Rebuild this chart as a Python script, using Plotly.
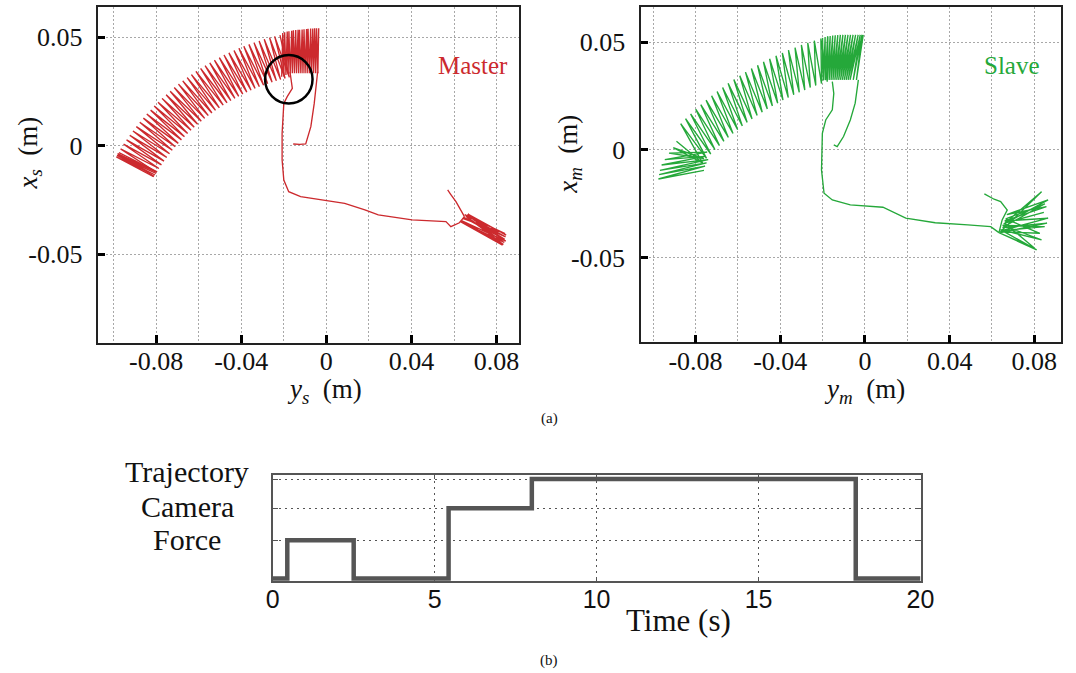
import plotly.graph_objects as go

# ---------------- data ----------------
# Master (left, red): zig-zag arc, inner / outer points (y_s, x_s)
master_arc_inner_ys = [-0.0810, -0.0799, -0.0787, -0.0775, -0.0763, -0.0750, -0.0737, -0.0724, -0.0710, -0.0696,
                       -0.0681, -0.0667, -0.0652, -0.0636, -0.0621, -0.0605, -0.0588, -0.0572, -0.0555, -0.0538,
                       -0.0521, -0.0503, -0.0485, -0.0467, -0.0449, -0.0430, -0.0412, -0.0393, -0.0374, -0.0354,
                       -0.0335, -0.0315, -0.0295, -0.0276, -0.0255, -0.0235, -0.0215, -0.0194, -0.0174]
master_arc_inner_xs = [-0.0141, -0.0123, -0.0105, -0.0088, -0.0071, -0.0054, -0.0037, -0.0021, -0.0005, 0.0011,
                       0.0027, 0.0042, 0.0056, 0.0071, 0.0085, 0.0099, 0.0113, 0.0126, 0.0139, 0.0151,
                       0.0163, 0.0175, 0.0187, 0.0198, 0.0208, 0.0218, 0.0228, 0.0238, 0.0247, 0.0256,
                       0.0264, 0.0272, 0.0279, 0.0286, 0.0293, 0.0299, 0.0305, 0.0310, 0.0315]
master_arc_outer_ys = [-0.0981, -0.0967, -0.0953, -0.0939, -0.0924, -0.0909, -0.0893, -0.0877, -0.0860, -0.0844,
                       -0.0826, -0.0809, -0.0791, -0.0772, -0.0753, -0.0734, -0.0715, -0.0695, -0.0675, -0.0654,
                       -0.0634, -0.0613, -0.0591, -0.0570, -0.0548, -0.0526, -0.0503, -0.0481, -0.0458, -0.0434,
                       -0.0411, -0.0388, -0.0364, -0.0340, -0.0316, -0.0292, -0.0267, -0.0243, -0.0218]
master_arc_outer_xs = [-0.0036, -0.0015, 0.0007, 0.0027, 0.0048, 0.0068, 0.0088, 0.0108, 0.0127, 0.0146,
                       0.0164, 0.0183, 0.0200, 0.0218, 0.0235, 0.0251, 0.0268, 0.0284, 0.0299, 0.0314,
                       0.0328, 0.0343, 0.0356, 0.0369, 0.0382, 0.0394, 0.0406, 0.0418, 0.0428, 0.0439,
                       0.0449, 0.0458, 0.0467, 0.0475, 0.0483, 0.0491, 0.0498, 0.0504, 0.0510]
master_left_tip_ys = [-0.0987, -0.0984, -0.0980, -0.0975]
master_left_tip_xs = [-0.0051, -0.0045, -0.0040, -0.0032]
master_left_end_ys = [-0.0812, -0.0805, -0.0800, -0.0795]
master_left_end_xs = [-0.0142, -0.0135, -0.0128, -0.0120]
master_block_bottom_ys = [-0.0210, -0.0200, -0.0190, -0.0180, -0.0170, -0.0160, -0.0150, -0.0140, -0.0130,
                          -0.0120, -0.0110, -0.0100, -0.0090, -0.0080, -0.0070, -0.0060, -0.0050, -0.0040]
master_block_bottom_xs = [0.0318, 0.0322, 0.0326, 0.0330, 0.0332, 0.0334, 0.0334, 0.0334, 0.0334,
                          0.0334, 0.0334, 0.0334, 0.0334, 0.0334, 0.0334, 0.0334, 0.0334, 0.0334]
master_block_top_ys = [-0.0205, -0.0196, -0.0184, -0.0176, -0.0163, -0.0155, -0.0144, -0.0133, -0.0126,
                       -0.0114, -0.0105, -0.0093, -0.0086, -0.0074, -0.0064, -0.0055, -0.0046, -0.0036]
master_block_top_xs = [0.0520, 0.0523, 0.0526, 0.0528, 0.0530, 0.0532, 0.0533, 0.0534, 0.0535,
                       0.0536, 0.0537, 0.0538, 0.0539, 0.0540, 0.0540, 0.0541, 0.0541, 0.0541]
master_start_ys = [-0.0156, -0.0125, -0.0097, -0.0073, -0.0057, -0.0045, -0.0041]
master_start_xs = [0.0008, 0.0006, 0.0008, 0.0088, 0.0195, 0.0288, 0.0341]
master_path_ys = [-0.0171, -0.0160, -0.0184, -0.0200, -0.0208, -0.0208, -0.0200, -0.0177, -0.0121,
                  -0.0010, 0.0086, 0.0181, 0.0244, 0.0403, 0.0562, 0.0585, 0.0625, 0.0649]
master_path_xs = [0.0341, 0.0264, 0.0226, 0.0195, 0.0057, -0.0066, -0.0158, -0.0212, -0.0235,
                  -0.0250, -0.0266, -0.0296, -0.0319, -0.0342, -0.0350, -0.0373, -0.0355, -0.0327]
master_hook_ys = [0.0649, 0.0641, 0.0609, 0.0585, 0.0570]
master_hook_xs = [-0.0327, -0.0312, -0.0258, -0.0225, -0.0204]
master_fan_hub_ys = [0.0640, 0.0650, 0.0645, 0.0660, 0.0635, 0.0655, 0.0630, 0.0665]
master_fan_hub_xs = [-0.0335, -0.0318, -0.0330, -0.0320, -0.0345, -0.0325, -0.0350, -0.0315]
master_fan_tip_ys = [0.0840, 0.0842, 0.0838, 0.0843, 0.0832, 0.0836, 0.0828, 0.0845]
master_fan_tip_xs = [-0.0405, -0.0420, -0.0432, -0.0440, -0.0455, -0.0446, -0.0458, -0.0412]

# Slave (right, green)
slave_arc_inner_ys = [-0.0767, -0.0748, -0.0728, -0.0708, -0.0687, -0.0666, -0.0645, -0.0623, -0.0601, -0.0579,
                      -0.0556, -0.0533, -0.0509, -0.0485, -0.0461, -0.0437, -0.0412, -0.0387, -0.0362, -0.0336,
                      -0.0310, -0.0284, -0.0258, -0.0232, -0.0205, -0.0178]
slave_arc_inner_xs = [-0.0060, -0.0039, -0.0019, 0.0001, 0.0020, 0.0040, 0.0058, 0.0076, 0.0094, 0.0111,
                      0.0128, 0.0144, 0.0160, 0.0175, 0.0190, 0.0204, 0.0217, 0.0231, 0.0243, 0.0256,
                      0.0267, 0.0278, 0.0289, 0.0299, 0.0308, 0.0317]
slave_arc_outer_ys = [-0.0870, -0.0847, -0.0823, -0.0799, -0.0775, -0.0750, -0.0724, -0.0698, -0.0672, -0.0646,
                      -0.0619, -0.0591, -0.0564, -0.0536, -0.0507, -0.0479, -0.0450, -0.0420, -0.0390, -0.0361,
                      -0.0330, -0.0300, -0.0270, -0.0239, -0.0208, -0.0176]
slave_arc_outer_xs = [0.0122, 0.0145, 0.0167, 0.0189, 0.0210, 0.0231, 0.0251, 0.0271, 0.0290, 0.0309,
                      0.0327, 0.0344, 0.0361, 0.0378, 0.0393, 0.0409, 0.0423, 0.0437, 0.0450, 0.0463,
                      0.0475, 0.0487, 0.0497, 0.0507, 0.0517, 0.0526]
slave_left_tip_ys = [-0.0975, -0.0972, -0.0968, -0.0960, -0.0945, -0.0925, -0.0905, -0.0890]
slave_left_tip_xs = [-0.0135, -0.0115, -0.0095, -0.0070, -0.0045, -0.0015, 0.0010, 0.0040]
slave_left_end_ys = [-0.0760, -0.0755, -0.0748, -0.0740, -0.0755, -0.0745, -0.0760, -0.0767]
slave_left_end_xs = [-0.0095, -0.0075, -0.0060, -0.0045, -0.0030, -0.0010, -0.0040, -0.0060]
slave_block_bottom_ys = [-0.0205, -0.0196, -0.0187, -0.0178, -0.0169, -0.0160, -0.0151, -0.0142, -0.0133,
                         -0.0124, -0.0115, -0.0106, -0.0097, -0.0088, -0.0079, -0.0070, -0.0055, -0.0040]
slave_block_bottom_xs = [0.0320, 0.0322, 0.0324, 0.0325, 0.0325, 0.0325, 0.0325, 0.0325, 0.0325,
                         0.0325, 0.0325, 0.0325, 0.0325, 0.0325, 0.0325, 0.0325, 0.0325, 0.0325]
slave_block_top_ys = [-0.0200, -0.0188, -0.0176, -0.0164, -0.0152, -0.0140, -0.0128, -0.0116, -0.0104,
                      -0.0092, -0.0080, -0.0068, -0.0056, -0.0044, -0.0032, -0.0022, -0.0014, -0.0008]
slave_block_top_xs = [0.0520, 0.0524, 0.0527, 0.0529, 0.0531, 0.0532, 0.0533, 0.0534, 0.0534,
                      0.0534, 0.0534, 0.0534, 0.0534, 0.0534, 0.0534, 0.0534, 0.0534, 0.0534]
slave_start_ys = [-0.0147, -0.0131, -0.0101, -0.0069, -0.0046, -0.0031]
slave_start_xs = [0.0023, 0.0015, 0.0062, 0.0139, 0.0217, 0.0325]
slave_path_ys = [-0.0154, -0.0147, -0.0154, -0.0185, -0.0201, -0.0205, -0.0193, -0.0154, -0.0069,
                 0.0023, 0.0085, 0.0193, 0.0332, 0.0486, 0.0594, 0.0633]
slave_path_xs = [0.0317, 0.0262, 0.0186, 0.0139, 0.0077, -0.0093, -0.0201, -0.0232, -0.0255,
                 -0.0263, -0.0266, -0.0317, -0.0338, -0.0348, -0.0356, -0.0384]
slave_hook_ys = [0.0564, 0.0610, 0.0641, 0.0672, 0.0648, 0.0633]
slave_hook_xs = [-0.0204, -0.0229, -0.0240, -0.0279, -0.0325, -0.0384]
slave_fan_hub_ys = [0.0633, 0.0640, 0.0650, 0.0645, 0.0660, 0.0670, 0.0655, 0.0640, 0.0665, 0.0650, 0.0635, 0.0660]
slave_fan_hub_xs = [-0.0384, -0.0370, -0.0350, -0.0375, -0.0330, -0.0300, -0.0345, -0.0380, -0.0320, -0.0360, -0.0385, -0.0340]
slave_fan_tip_ys = [0.0811, 0.0834, 0.0849, 0.0865, 0.0857, 0.0865, 0.0834, 0.0826, 0.0850, 0.0860, 0.0800, 0.0845]
slave_fan_tip_xs = [-0.0464, -0.0418, -0.0356, -0.0317, -0.0263, -0.0232, -0.0194, -0.0387, -0.0250, -0.0340, -0.0455, -0.0290]

# Task timeline (b)
mode_names = ["Force", "Camera", "Trajectory"]
mode_levels = [1.0, 1.84, 2.6]
switch_times = [0, 0.45, 2.5, 5.43, 8.0, 18.0, 20]
switch_levels = [0, 1.0, 0, 1.84, 2.6, 0, 0]

tick_pos = [-0.08, -0.04, 0, 0.04, 0.08]
tick_txt = ["-0.08", "-0.04", "0", "0.04", "0.08"]
grid_minor = [-0.10, -0.06, -0.02, 0.02, 0.06]
ytick_pos = [-0.05, 0, 0.05]
ytick_txt = ["-0.05", "0", "0.05"]
time_ticks = [0, 5, 10, 15, 20]


# ---------------- helpers ----------------
def zigzag(ax, ay, bx, by):
    xs, ys = [], []
    for i in range(len(ax)):
        xs += [ax[i], bx[i]]
        ys += [ay[i], by[i]]
    return xs, ys


def join(*segs):
    X, Y = [], []
    for sx, sy in segs:
        X += list(sx) + [None]
        Y += list(sy) + [None]
    return X, Y


mX, mY = join(
    zigzag(master_arc_inner_ys, master_arc_inner_xs, master_arc_outer_ys, master_arc_outer_xs),
    zigzag(master_left_end_ys, master_left_end_xs, master_left_tip_ys, master_left_tip_xs),
    zigzag(master_block_bottom_ys, master_block_bottom_xs, master_block_top_ys, master_block_top_xs),
    (master_start_ys, master_start_xs),
    (master_path_ys, master_path_xs),
    (master_hook_ys, master_hook_xs),
    zigzag(master_fan_hub_ys, master_fan_hub_xs, master_fan_tip_ys, master_fan_tip_xs),
)
sX, sY = join(
    zigzag(slave_arc_inner_ys, slave_arc_inner_xs, slave_arc_outer_ys, slave_arc_outer_xs),
    zigzag(slave_left_end_ys, slave_left_end_xs, slave_left_tip_ys, slave_left_tip_xs),
    zigzag(slave_block_bottom_ys, slave_block_bottom_xs, slave_block_top_ys, slave_block_top_xs),
    (slave_start_ys, slave_start_xs),
    (slave_path_ys, slave_path_xs),
    (slave_hook_ys, slave_hook_xs),
    zigzag(slave_fan_hub_ys, slave_fan_hub_xs, slave_fan_tip_ys, slave_fan_tip_xs),
)

RED = "#cc2a2e"
GREEN = "#25a83a"
SERIF = "Liberation Serif, Times New Roman, serif"
W, H = 1076, 673

fig = go.Figure()
fig.add_trace(go.Scatter(x=mX, y=mY, mode="lines", line=dict(color=RED, width=1.35),
                         xaxis="x", yaxis="y", hoverinfo="skip"))
fig.add_trace(go.Scatter(x=sX, y=sY, mode="lines", line=dict(color=GREEN, width=1.35),
                         xaxis="x2", yaxis="y2", hoverinfo="skip"))
fig.add_trace(go.Scatter(x=switch_times, y=switch_levels, mode="lines", line_shape="hv",
                         line=dict(color="#555555", width=4.5), xaxis="x3", yaxis="y3", hoverinfo="skip"))

top_grid = dict(showgrid=True, gridcolor="#a8a8a8", griddash="2px,2px", gridwidth=1)


def top_xaxis(domain, rng, anchor):
    return dict(domain=domain, range=rng, anchor=anchor, tickmode="array", tickvals=tick_pos, ticktext=tick_txt,
                ticks="inside", ticklen=8, tickwidth=3, tickcolor="black", showline=True, linecolor="#222",
                linewidth=1.5, mirror=True, zeroline=False, tickfont=dict(family=SERIF, size=26, color="#111"),
                ticklabelstandoff=-5,
                minor=dict(tickmode="array", tickvals=grid_minor, ticks="", **top_grid), **top_grid)


def top_yaxis(domain, rng, anchor):
    return dict(domain=domain, range=rng, anchor=anchor, tickmode="array", tickvals=ytick_pos, ticktext=ytick_txt,
                ticks="inside", ticklen=7, tickwidth=3, tickcolor="black", showline=True, linecolor="#222",
                linewidth=1.5, mirror=True, zeroline=False, tickfont=dict(family=SERIF, size=26, color="#111"),
                ticklabelstandoff=9, **top_grid)


fig.update_layout(
    width=W, height=H, margin=dict(l=0, r=0, t=0, b=0), paper_bgcolor="white", plot_bgcolor="white",
    showlegend=False,
    xaxis=top_xaxis([93.3 / W, 521.7 / W], [-0.1071, 0.0903], "y"),
    yaxis=top_yaxis([1 - 342.5 / H, 1 - 7.3 / H], [-0.0907, 0.0638], "x"),
    xaxis2=top_xaxis([646.7 / W, 1075 / W], [-0.1057, 0.0926], "y2"),
    yaxis2=top_yaxis([1 - 342.3 / H, 1 - 7.3 / H], [-0.0893, 0.0662], "x2"),
    xaxis3=dict(domain=[271 / W, 931.7 / W], range=[0, 20], anchor="y3", tickmode="array", tickvals=time_ticks,
                ticks="inside", ticklen=4, tickcolor="#555", showline=True, linecolor="#555", linewidth=2,
                mirror="ticks", zeroline=False, showgrid=True, gridcolor="#555", griddash="2px,4px", gridwidth=1,
                tickfont=dict(family="Liberation Sans, Arial, sans-serif", size=25, color="#111"),
                ticklabelstandoff=-5),
    yaxis3=dict(domain=[1 - 581 / H, 1 - 474.5 / H], range=[-0.065, 2.72], anchor="x3", tickmode="array",
                tickvals=mode_levels, showticklabels=False, ticks="inside", ticklen=5, tickcolor="#555",
                showline=True, linecolor="#555", linewidth=2, mirror="ticks", zeroline=False, showgrid=True,
                gridcolor="#555", griddash="2px,4px", gridwidth=1),
)

# highlight circle on the master plot
fig.add_shape(type="circle", xref="x", yref="y", x0=-0.0288, x1=-0.0065, y0=0.0195, y1=0.0418,
              line=dict(color="black", width=2.5))


def ann(text, px, py, size, color="#111", angle=0, family=SERIF):
    fig.add_annotation(text=text, x=px / W, y=1 - py / H, xref="paper", yref="paper", showarrow=False,
                       xanchor="center", yanchor="middle", textangle=angle,
                       font=dict(family=family, size=size, color=color))


ann("Master", 475, 65, 25, RED)
ann("Slave", 1025, 65, 25, GREEN)
ann("<i>x</i><sub><i>s</i></sub>  (m)", 23, 153, 27, angle=-90)
ann("<i>y</i><sub><i>s</i></sub>  (m)", 324, 391, 27)
ann("<i>x</i><sub><i>m</i></sub>  (m)", 574, 154, 27, angle=-90)
ann("<i>y</i><sub><i>m</i></sub>  (m)", 875, 391, 27)
ann("(a)", 553, 418, 15)
ann("(b)", 553, 660, 15)
ann("Time (s)", 685, 620, 31)
label_py = [539, 506.7, 472]
for name, py in zip(mode_names, label_py):
    ann(name, 184, py, 30)

fig.write_html("out.html")
